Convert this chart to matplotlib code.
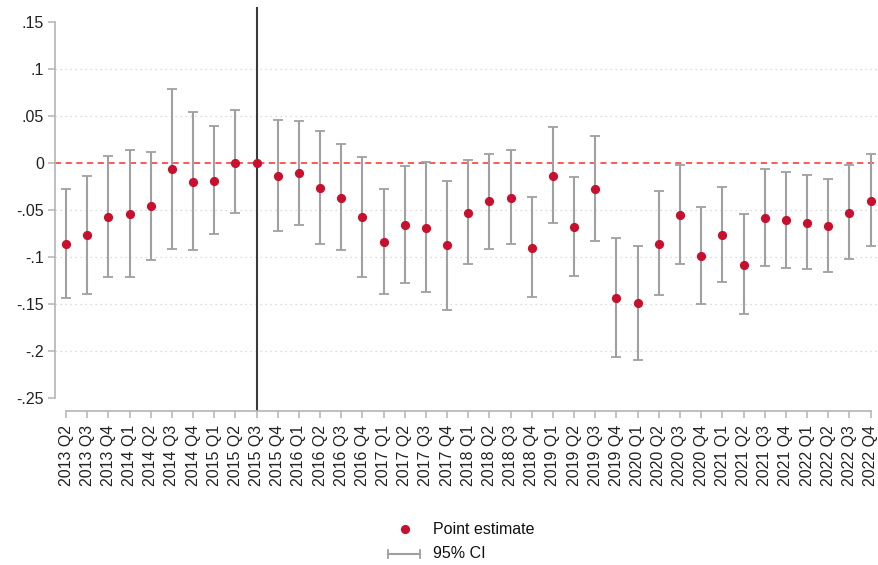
import matplotlib
matplotlib.use("Agg")
import matplotlib.pyplot as plt
from matplotlib.lines import Line2D
import numpy as np

plt.rcParams['font.family'] = ['Liberation Sans', 'DejaVu Sans']

quarters = ["2013 Q2", "2013 Q3", "2013 Q4", "2014 Q1", "2014 Q2", "2014 Q3", "2014 Q4",
            "2015 Q1", "2015 Q2", "2015 Q3", "2015 Q4", "2016 Q1", "2016 Q2", "2016 Q3",
            "2016 Q4", "2017 Q1", "2017 Q2", "2017 Q3", "2017 Q4", "2018 Q1", "2018 Q2",
            "2018 Q3", "2018 Q4", "2019 Q1", "2019 Q2", "2019 Q3", "2019 Q4", "2020 Q1",
            "2020 Q2", "2020 Q3", "2020 Q4", "2021 Q1", "2021 Q2", "2021 Q3", "2021 Q4",
            "2022 Q1", "2022 Q2", "2022 Q3", "2022 Q4"]

estimate = [-0.086, -0.077, -0.057, -0.054, -0.046, -0.007, -0.020,
            -0.019, 0.000, 0.000, -0.0135, -0.011, -0.027, -0.0376,
            -0.058, -0.084, -0.066, -0.069, -0.0876, -0.053, -0.041,
            -0.037, -0.090, -0.0138, -0.068, -0.0277, -0.143, -0.149,
            -0.0858, -0.055, -0.099, -0.077, -0.108, -0.059, -0.061,
            -0.064, -0.067, -0.053, -0.040]

ci_upper = [-0.028, -0.014, 0.0078, 0.014, 0.012, 0.078, 0.054,
            0.0387, 0.056, np.nan, 0.046, 0.044, 0.0337, 0.0195,
            0.0067, -0.028, -0.003, 0.0007, -0.0188, 0.003, 0.0096,
            0.0138, -0.036, 0.0376, -0.0149, 0.0284, -0.080, -0.0887,
            -0.030, -0.0018, -0.047, -0.0255, -0.054, -0.0067, -0.0099,
            -0.013, -0.0174, -0.0028, 0.0096]

ci_lower = [-0.143, -0.139, -0.121, -0.121, -0.103, -0.0915, -0.093,
            -0.076, -0.053, np.nan, -0.072, -0.066, -0.0865, -0.093,
            -0.121, -0.139, -0.128, -0.137, -0.156, -0.107, -0.091,
            -0.0865, -0.1426, -0.064, -0.120, -0.0826, -0.206, -0.209,
            -0.140, -0.107, -0.150, -0.127, -0.160, -0.110, -0.112,
            -0.113, -0.116, -0.102, -0.0887]

yticks = [0.15, 0.1, 0.05, 0, -0.05, -0.1, -0.15, -0.2, -0.25]
ytick_labels = [".15", ".1", ".05", "0", "-.05", "-.1", "-.15", "-.2", "-.25"]
event_quarter = "2015 Q3"
legend_labels = ["Point estimate", "95% CI"]

W, H = 879, 565
fig = plt.figure(figsize=(W / 100, H / 100), dpi=100)
ax = fig.add_axes([55 / W, 1 - 411 / H, (879 - 55) / W, (411 - 7) / H])

x = np.arange(len(quarters))
est = np.array(estimate)
up = np.array(ci_upper)
lo = np.array(ci_lower)

spine_col = "#b4b4b4"
ci_col = "#a0a0a0"
pt_col = "#c8102e"

# gridlines
for yt in yticks:
    if yt in (0, 0.15, -0.25):
        continue
    ax.axhline(yt, color="#d0d0d0", lw=0.9, ls=(0, (1, 3)), zorder=0)

ax.axhline(0, color="#ff2a2a", lw=1.1, ls=(0, (4, 3)), zorder=1)
ax.axvline(quarters.index(event_quarter), color="#3a3a3a", lw=1.5, zorder=1)

mask = ~np.isnan(up)
ax.errorbar(x[mask], (up[mask] + lo[mask]) / 2,
            yerr=[(up[mask] - lo[mask]) / 2, (up[mask] - lo[mask]) / 2],
            fmt="none", ecolor=ci_col, elinewidth=1.5, capsize=3.3, capthick=1.3, zorder=2)
ax.plot(x, est, "o", color=pt_col, ms=5.6, mec=pt_col, zorder=3)

ax.set_xlim(-0.52, 38.4)
ax.set_ylim(-0.2635, 0.1655)

for s in ["top", "right"]:
    ax.spines[s].set_visible(False)
ax.spines["left"].set_bounds(-0.25, 0.15)
ax.spines["bottom"].set_bounds(0, len(quarters) - 1)
ax.spines["left"].set_color(spine_col)
ax.spines["bottom"].set_color(spine_col)
ax.spines["left"].set_linewidth(1.2)
ax.spines["bottom"].set_linewidth(1.2)

ax.set_yticks(yticks)
ax.set_yticklabels(ytick_labels)
ax.set_xticks(x)
ax.set_xticklabels(quarters, rotation=90)
ax.tick_params(axis="both", colors=spine_col, labelcolor="#222222", labelsize=11.5,
               length=5, width=1.1)
ax.tick_params(axis="x", pad=5)
ax.tick_params(axis="y", pad=3)

# manual legend (figure pixel coordinates converted to fractions)
def fx(px):
    return px / W

def fy(py):
    return 1 - py / H

fig.add_artist(Line2D([fx(405)], [fy(529)], ls="none", marker="o", color=pt_col, ms=5.6))
fig.add_artist(Line2D([fx(388), fx(420)], [fy(554), fy(554)], color=ci_col, lw=1.5))
for cx in (388, 420):
    fig.add_artist(Line2D([fx(cx), fx(cx)], [fy(550), fy(558)], color=ci_col, lw=1.3))
fig.text(fx(433), fy(529), legend_labels[0], fontsize=11.5, va="center", ha="left", color="#111111")
fig.text(fx(433), fy(554), legend_labels[1], fontsize=11.5, va="center", ha="left", color="#111111")

fig.savefig("out.png", dpi=100)
